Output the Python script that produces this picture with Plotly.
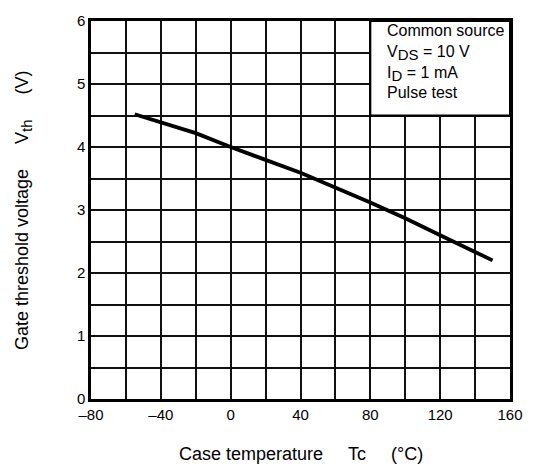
import plotly.graph_objects as go

# Gate threshold voltage vs. case temperature
case_temp_c = [-55, -20, 0, 40, 80, 100, 120, 150]
vth_volts = [4.52, 4.22, 4.00, 3.59, 3.12, 2.87, 2.60, 2.20]

x_tick_vals = [-80, -40, 0, 40, 80, 120, 160]
x_tick_text = ["\u201380", "\u201340", "0", "40", "80", "120", "160"]
y_tick_vals = [0, 1, 2, 3, 4, 5, 6]


def sub(s, size):
    return f'<sub><span style="font-size:{size}px">{s}</span></sub>'


conditions = ["Common source", f"V{sub('DS', 15)} = 10 V", f"I{sub('D', 15)} = 1 mA", "Pulse test"]

FONT = "Liberation Sans, Arial, sans-serif"
sp = "\u00a0" * 5

fig = go.Figure()
fig.add_trace(go.Scatter(
    x=case_temp_c, y=vth_volts, mode="lines",
    line=dict(color="black", width=3.8),
    showlegend=False, hoverinfo="skip",
))

grid = dict(showgrid=True, gridcolor="#111111", gridwidth=1.5, zeroline=False,
            showline=True, linecolor="black", linewidth=2.5, mirror=True,
            ticks="", tickfont=dict(family=FONT, size=15, color="black"))

fig.update_xaxes(range=[-80, 160],
                 tickmode="array", tickvals=x_tick_vals, ticktext=x_tick_text,
                 minor=dict(tickvals=list(range(-80, 161, 20)), showgrid=True,
                            gridcolor="#111111", gridwidth=1.5),
                 **grid)
fig.update_yaxes(range=[0, 6], tickmode="array", tickvals=y_tick_vals,
                 minor=dict(tickvals=[v / 2 for v in range(0, 13)], showgrid=True,
                            gridcolor="#111111", gridwidth=1.5),
                 **grid)

# conditions box in the upper-right corner
fig.add_shape(type="rect", xref="x", yref="y", x0=80, x1=160, y0=4.5, y1=6,
              fillcolor="white", line=dict(color="black", width=2), layer="above")
fig.add_annotation(xref="x", yref="y", x=80, y=6, xanchor="left", yanchor="top",
                   xshift=15, yshift=1, align="left", showarrow=False,
                   text="<br>".join(conditions),
                   font=dict(family=FONT, size=16, color="black"))

fig.add_annotation(xref="paper", yref="paper", x=0.5, y=-0.1458,
                   xanchor="center", yanchor="middle", showarrow=False,
                   text=f"Case temperature{sp}Tc{sp}(\u00b0C)",
                   font=dict(family=FONT, size=18, color="black"))
fig.add_annotation(xref="paper", yref="paper", x=-0.162, y=0.5,
                   xanchor="center", yanchor="middle", showarrow=False, textangle=-90,
                   text=f"Gate threshold voltage{sp}V{sub('th', 15)}{sp}(V)",
                   font=dict(family=FONT, size=18, color="black"))

fig.update_layout(
    width=535, height=468,
    margin=dict(l=91, r=18, t=15, b=69),
    paper_bgcolor="white", plot_bgcolor="white",
)

fig.write_html("out.html")
